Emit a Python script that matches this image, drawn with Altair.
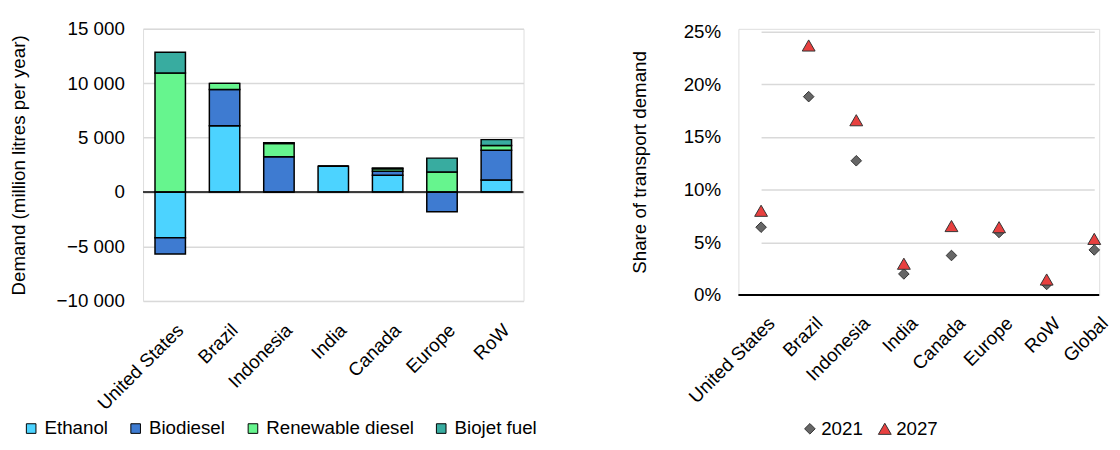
import altair as alt
import pandas as pd

# ---------------- data ----------------
regions_left = ["United States", "Brazil", "Indonesia", "India", "Canada", "Europe", "RoW"]
fuels = ["Ethanol", "Biodiesel", "Renewable diesel", "Biojet fuel"]
ethanol = [-4200, 6100, 0, 2380, 1550, 0, 1120]
biodiesel = [-1500, 3330, 3250, 0, 360, -1800, 2730]
renewable_diesel = [10950, 560, 1220, 0, 230, 1850, 430]
biojet = [1900, 0, 60, 0, 80, 1270, 540]
fuel_colors = ["#4CD3FF", "#3E7BD1", "#66F58E", "#38ACA0"]

regions_right = ["United States", "Brazil", "Indonesia", "India", "Canada", "Europe", "RoW", "Global"]
years = ["2021", "2027"]
share_2021 = [0.0644, 0.1884, 0.1275, 0.020, 0.0375, 0.0594, 0.010, 0.0428]
share_2027 = [0.080, 0.237, 0.166, 0.0297, 0.0655, 0.0644, 0.0147, 0.0533]
year_colors = ["#666666", "#E8403F"]
year_shapes = ["diamond", "triangle-up"]
year_sizes = [115, 170]

FONT = "Liberation Sans"
FS = 19

# ---------------- tables ----------------
rows = []
series = [ethanol, biodiesel, renewable_diesel, biojet]
for fi, (fuel, vals) in enumerate(zip(fuels, series)):
    for r, v in zip(regions_left, vals):
        rows.append({"region": r, "fuel": fuel, "order": fi, "value": v})
df_left = pd.DataFrame(rows)

rows = []
for y, vals in zip(years, [share_2021, share_2027]):
    for r, v in zip(regions_right, vals):
        rows.append({"region": r, "year": y, "share": v})
df_right = pd.DataFrame(rows)

# ---------------- left chart ----------------
bars = alt.Chart(df_left).mark_bar(stroke="black", strokeWidth=1.5).encode(
    x=alt.X("region:N", sort=regions_left,
            scale=alt.Scale(paddingInner=0.44, paddingOuter=0.22),
            axis=alt.Axis(title=None, labelAngle=-45, labelAlign="right", labelBaseline="top",
                          labelPadding=20, labelOffset=4, ticks=False, domain=False, labelFontSize=FS,
                          labelFont=FONT, labelColor="black")),
    y=alt.Y("value:Q", stack="zero",
            scale=alt.Scale(domain=[-10000, 15000], nice=False),
            axis=alt.Axis(title="Demand (million litres per year)", values=[-10000, -5000, 0, 5000, 10000, 15000],
                          labelExpr="replace(format(datum.value, ','), ',', ' ')",
                          grid=True, gridColor="#D9D9D9", gridWidth=1.5, domain=False, ticks=False,
                          labelPadding=19, labelFontSize=FS, labelFont=FONT, labelColor="black",
                          titleFontSize=FS, titleFont=FONT, titleFontWeight="normal", titleColor="black",
                          titlePadding=28)),
    color=alt.Color("fuel:N", sort=fuels,
                    scale=alt.Scale(domain=fuels, range=fuel_colors),
                    legend=alt.Legend(title=None, orient="none", legendX=-123, legendY=396, padding=0,
                                      direction="horizontal", columns=4, columnPadding=18,
                                      gridAlign="none", labelLimit=400,
                                      symbolType="square", symbolSize=95, symbolStrokeColor="black",
                                      symbolStrokeWidth=1, labelFontSize=FS, labelFont=FONT,
                                      labelColor="black", labelOffset=4)),
    order=alt.Order("order:Q", sort="ascending"),
)

zero_left = alt.Chart(pd.DataFrame({"y": [0]})).mark_rule(color="black", strokeWidth=1.5).encode(
    y=alt.Y("y:Q")
)

left = alt.layer(bars, zero_left).properties(width=386, height=276)

# ---------------- right chart ----------------
year_legend = alt.Legend(title=None, orient="none", legendX=63, legendY=396, padding=0,
                         direction="horizontal", columns=2, columnPadding=12,
                         symbolStrokeColor="#333333", symbolStrokeWidth=1,
                         labelFontSize=FS, labelFont=FONT, labelColor="black", labelOffset=2)

points = alt.Chart(df_right).mark_point(filled=True, opacity=1, stroke="#333333", strokeWidth=1).encode(
    x=alt.X("region:N", sort=regions_right,
            scale=alt.Scale(type="point", range=[23, 361], padding=0),
            axis=alt.Axis(title=None, labelAngle=-45, labelAlign="right", labelBaseline="top",
                          labelPadding=19, labelOffset=4, ticks=False, domain=False,
                          labelFontSize=FS, labelFont=FONT, labelColor="black")),
    y=alt.Y("share:Q",
            scale=alt.Scale(domain=[0, 0.2528], nice=False),
            axis=alt.Axis(title="Share of transport demand", values=[0, 0.05, 0.1, 0.15, 0.2, 0.25],
                          format=".0%", grid=True, gridColor="#D9D9D9", gridWidth=1.5,
                          domain=False, ticks=False, labelPadding=18, labelFontSize=FS, labelFont=FONT,
                          labelColor="black", titleFontSize=FS, titleFont=FONT, titleFontWeight="normal",
                          titleColor="black", titlePadding=34)),
    color=alt.Color("year:N", scale=alt.Scale(domain=years, range=year_colors), legend=year_legend),
    shape=alt.Shape("year:N", scale=alt.Scale(domain=years, range=year_shapes), legend=year_legend),
    size=alt.Size("year:N", scale=alt.Scale(domain=years, range=year_sizes), legend=year_legend),
)

zero_right = alt.Chart(pd.DataFrame({"y": [0]})).mark_rule(color="black", strokeWidth=2).encode(
    y=alt.Y("y:Q")
)

right = alt.layer(zero_right, points).properties(width=366, height=270)

chart = alt.hconcat(left, right, spacing=218, bounds="flush").resolve_scale(
    color="independent", shape="independent", size="independent"
).resolve_legend(
    color="independent", shape="independent", size="independent"
).properties(
    padding={"left": 1, "top": 8, "right": 0, "bottom": 0}
).configure_view(stroke=None).configure(font=FONT)

chart.save("out.html", embed_options={"renderer": "svg", "actions": False})
